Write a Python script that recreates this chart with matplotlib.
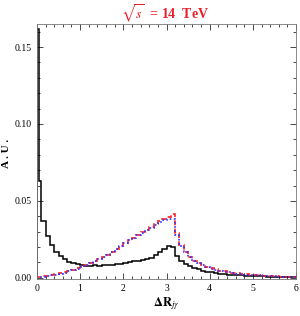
import matplotlib
matplotlib.use('Agg')
import numpy as np
import matplotlib.pyplot as plt
from matplotlib.ticker import MultipleLocator

plt.rcParams['font.family'] = ['Liberation Serif', 'DejaVu Serif']
plt.rcParams['mathtext.fontset'] = 'stix'

# bin edges (0.1 wide, black has a split first bin)
edges = np.round(np.arange(0, 6.01, 0.1), 2)
black_edges = np.concatenate([[0.0, 0.05], edges[1:]])

# black: jet-photon separation, background
black = [0.162, 0.063,
         0.037, 0.027, 0.021, 0.017, 0.014, 0.012, 0.0105, 0.0095, 0.0088,
         0.0082, 0.0079, 0.0078, 0.0080, 0.0079, 0.0080, 0.0082, 0.0085, 0.0088, 0.0092,
         0.0096, 0.0101, 0.0106, 0.0110, 0.0115, 0.0122, 0.0130, 0.0145, 0.0165, 0.0185,
         0.0205, 0.0200, 0.0140, 0.0110, 0.0090, 0.0075, 0.0063, 0.0054, 0.0046, 0.0040,
         0.0035, 0.0031, 0.0027, 0.0024, 0.0021, 0.0019, 0.0017, 0.0015, 0.0013, 0.0012,
         0.0011, 0.0010, 0.0009, 0.0008, 0.0007, 0.0006, 0.0005, 0.0005, 0.0004, 0.0004]

red = [0.0006, 0.0009, 0.0013, 0.0017, 0.0022, 0.0028, 0.0035, 0.0043, 0.0052, 0.0061,
       0.0070, 0.0080, 0.0093, 0.0107, 0.0120, 0.0135, 0.0150, 0.0168, 0.0187, 0.0207,
       0.0228, 0.0245, 0.0262, 0.0278, 0.0295, 0.0310, 0.0328, 0.0348, 0.0368, 0.0385,
       0.0395, 0.0412, 0.0290, 0.0215, 0.0170, 0.0135, 0.0112, 0.0095, 0.0082, 0.0071,
       0.0062, 0.0054, 0.0047, 0.0041, 0.0036, 0.0032, 0.0028, 0.0025, 0.0022, 0.0019,
       0.0017, 0.0015, 0.0013, 0.0012, 0.0010, 0.0009, 0.0008, 0.0007, 0.0006, 0.0005]

blue = [0.0005, 0.0008, 0.0012, 0.0016, 0.0021, 0.0027, 0.0034, 0.0042, 0.0051, 0.0060,
        0.0070, 0.0081, 0.0094, 0.0107, 0.0121, 0.0136, 0.0151, 0.0168, 0.0186, 0.0205,
        0.0225, 0.0243, 0.0260, 0.0276, 0.0292, 0.0308, 0.0325, 0.0343, 0.0360, 0.0375,
        0.0380, 0.0385, 0.0280, 0.0208, 0.0165, 0.0132, 0.0110, 0.0093, 0.0080, 0.0069,
        0.0060, 0.0052, 0.0046, 0.0040, 0.0035, 0.0031, 0.0027, 0.0024, 0.0021, 0.0019,
        0.0017, 0.0015, 0.0013, 0.0011, 0.0010, 0.0009, 0.0008, 0.0007, 0.0006, 0.0005]

fig = plt.figure(figsize=(3.0, 3.16), dpi=100)
ax = fig.add_axes([0.123, 0.117, 0.864, 0.807])

ax.stairs(black, black_edges, color='black', lw=1.1)
ax.stairs(red, edges, color='#ff2020', lw=1.2, ls=(0, (3, 2)))
ax.stairs(blue, edges, color='#3030ff', lw=1.2, ls=(0, (1, 1.5)))

ax.set_xlim(0, 6)
ax.set_ylim(-0.0008, 0.165)
ax.xaxis.set_major_locator(MultipleLocator(1))
ax.xaxis.set_minor_locator(MultipleLocator(0.2))
ax.yaxis.set_major_locator(MultipleLocator(0.05))
ax.yaxis.set_minor_locator(MultipleLocator(0.01))
ax.yaxis.set_major_formatter(matplotlib.ticker.FormatStrFormatter('%.2f'))
ax.tick_params(which='both', direction='in', top=True, right=True, labelsize=7, width=0.5)
ax.tick_params(which='major', length=4)
ax.tick_params(which='minor', length=2)
for s in ax.spines.values():
    s.set_color('#777777')
    s.set_linewidth(0.6)

fig.text(0.022, 0.515, 'A . U .', fontsize=8, fontweight='bold', rotation=90,
         ha='center', va='center')
fig.text(0.555, 0.04, r'$\mathbf{\Delta R}_{j\gamma}$', fontsize=9,
         ha='center', va='center')
fig.text(0.55, 0.955, r'$\sqrt{s}$  = 14  TeV', color='#e8202a', fontsize=10,
         fontweight='bold', ha='center', va='center')

fig.savefig('out.png', dpi=100)
